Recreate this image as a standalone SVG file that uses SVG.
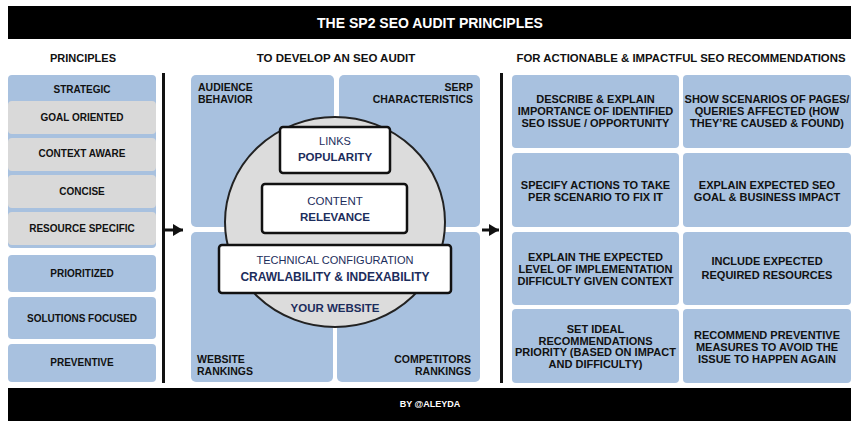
<svg xmlns="http://www.w3.org/2000/svg" width="859" height="428" viewBox="0 0 859 428">
<defs>
<style>
text{font-family:"Liberation Sans",Arial,sans-serif;font-weight:bold;fill:#111}
.c{text-anchor:middle}
.r{text-anchor:end}
.w{fill:#fff}
.blue{fill:#a8c1df}
.gray{fill:#d9d9d9}
.p{font-size:10px}
.g{font-size:11px}
.q{font-size:10.5px}
.n{fill:#1c2d5c}
.reg{font-weight:normal}
.box{fill:#fff;stroke:#111;stroke-width:2.5}
.div{stroke:#111;stroke-width:3;fill:none}
</style>
<marker id="ah" markerWidth="10" markerHeight="12" refX="10" refY="6" orient="auto" markerUnits="userSpaceOnUse">
<path d="M0,0 L10,6 L0,12 Z" fill="#111"/>
</marker>
</defs>
<rect width="859" height="428" fill="#fff"/>
<g id="title">
<rect x="8" y="6" width="843" height="33" fill="#000"/>
<text class="c w" x="430" y="28" font-size="14">THE SP2 SEO AUDIT PRINCIPLES</text>
</g>
<g id="headers">
<text class="c" x="83" y="62" font-size="11">PRINCIPLES</text>
<text class="c" x="336" y="62" font-size="11.5">TO DEVELOP AN SEO AUDIT</text>
<text class="c" x="681" y="62" font-size="11.5" textLength="329" lengthAdjust="spacingAndGlyphs">FOR ACTIONABLE &amp; IMPACTFUL SEO RECOMMENDATIONS</text>
</g>
<g id="strategic">
<rect class="blue" x="8" y="75" width="148" height="173" rx="4"/>
<text class="c p" x="82" y="93">STRATEGIC</text>
</g>
<g id="goal-oriented"><rect class="gray" x="8" y="101" width="148" height="33" rx="4"/><text class="c p" x="82" y="121">GOAL ORIENTED</text></g>
<g id="context-aware"><rect class="gray" x="8" y="138" width="148" height="33" rx="4"/><text class="c p" x="82" y="157">CONTEXT AWARE</text></g>
<g id="concise"><rect class="gray" x="8" y="175" width="148" height="33" rx="4"/><text class="c p" x="82" y="195">CONCISE</text></g>
<g id="resource-specific"><rect class="gray" x="8" y="212" width="148" height="33" rx="4"/><text class="c p" x="82" y="232">RESOURCE SPECIFIC</text></g>
<g id="prioritized"><rect class="blue" x="8" y="255" width="148" height="37" rx="4"/><text class="c p" x="82" y="277">PRIORITIZED</text></g>
<g id="solutions-focused"><rect class="blue" x="8" y="297" width="148" height="42" rx="4"/><text class="c p" x="82" y="322">SOLUTIONS FOCUSED</text></g>
<g id="preventive"><rect class="blue" x="8" y="344" width="148" height="38" rx="4"/><text class="c p" x="82" y="366">PREVENTIVE</text></g>

<g id="audience-behavior"><rect class="blue" x="191" y="75" width="143" height="152" rx="5"/><text class="q" x="198" y="91">AUDIENCE</text><text class="q" x="198" y="102.5">BEHAVIOR</text></g>
<g id="serp-characteristics"><rect class="blue" x="339" y="75" width="141" height="152" rx="5"/><text class="q r" x="473" y="91">SERP</text><text class="q r" x="473" y="102.5">CHARACTERISTICS</text></g>
<g id="website-rankings"><rect class="blue" x="191" y="232" width="142" height="150" rx="5"/><text class="q" x="197" y="363">WEBSITE</text><text class="q" x="197" y="375">RANKINGS</text></g>
<g id="competitors-rankings"><rect class="blue" x="337" y="232" width="143" height="150" rx="5"/><text class="q r" x="471" y="363">COMPETITORS</text><text class="q r" x="471" y="375">RANKINGS</text></g>

<g id="your-website">
<ellipse cx="335" cy="222" rx="110" ry="105" fill="#dcdcdc" stroke="#222" stroke-width="2"/>
<text class="c n" x="335" y="311.5" font-size="11.5">YOUR WEBSITE</text>
</g>
<g id="links"><rect class="box" x="280" y="127" width="110" height="46" rx="3"/><text class="c n reg" x="335" y="145" font-size="11">LINKS</text><text class="c n" x="335" y="161" font-size="11.5">POPULARITY</text></g>
<g id="content"><rect class="box" x="262" y="184" width="145" height="49" rx="3"/><text class="c n reg" x="335" y="205" font-size="11.5">CONTENT</text><text class="c n" x="335" y="220.5" font-size="11.5">RELEVANCE</text></g>
<g id="technical"><rect class="box" x="219" y="245" width="232" height="48" rx="3"/><text class="c n reg" x="335" y="264" font-size="11" textLength="157" lengthAdjust="spacingAndGlyphs">TECHNICAL CONFIGURATION</text><text class="c n" x="335" y="280.5" font-size="12">CRAWLABILITY &amp; INDEXABILITY</text></g>

<g id="r1c1"><rect class="blue" x="512" y="75" width="167" height="73" rx="4"/><text class="c g" x="595.5" y="103">DESCRIBE &amp; EXPLAIN</text><text class="c g" x="595.5" y="115">IMPORTANCE OF IDENTIFIED</text><text class="c g" x="595.5" y="127">SEO ISSUE / OPPORTUNITY</text></g>
<g id="r1c2"><rect class="blue" x="683" y="75" width="168" height="73" rx="4"/><text class="c g" x="767" y="103">SHOW SCENARIOS OF PAGES/</text><text class="c g" x="767" y="115">QUERIES AFFECTED (HOW</text><text class="c g" x="767" y="127">THEY’RE CAUSED &amp; FOUND)</text></g>
<g id="r2c1"><rect class="blue" x="512" y="153" width="167" height="74" rx="4"/><text class="c g" x="595.5" y="189">SPECIFY ACTIONS TO TAKE</text><text class="c g" x="595.5" y="201">PER SCENARIO TO FIX IT</text></g>
<g id="r2c2"><rect class="blue" x="683" y="153" width="168" height="74" rx="4"/><text class="c g" x="767" y="189">EXPLAIN EXPECTED SEO</text><text class="c g" x="767" y="201">GOAL &amp; BUSINESS IMPACT</text></g>
<g id="r3c1"><rect class="blue" x="512" y="232" width="167" height="73" rx="4"/><text class="c g" x="595.5" y="260.5">EXPLAIN THE EXPECTED</text><text class="c g" x="595.5" y="272.5">LEVEL OF IMPLEMENTATION</text><text class="c g" x="595.5" y="284.5">DIFFICULTY GIVEN CONTEXT</text></g>
<g id="r3c2"><rect class="blue" x="683" y="232" width="168" height="73" rx="4"/><text class="c g" x="767" y="265">INCLUDE EXPECTED</text><text class="c g" x="767" y="279">REQUIRED RESOURCES</text></g>
<g id="r4c1"><rect class="blue" x="512" y="309" width="167" height="74" rx="4"/><text class="c g" x="595.5" y="333">SET IDEAL</text><text class="c g" x="595.5" y="344.7">RECOMMENDATIONS</text><text class="c g" x="595.5" y="356.4">PRIORITY (BASED ON IMPACT</text><text class="c g" x="595.5" y="368">AND DIFFICULTY)</text></g>
<g id="r4c2"><rect class="blue" x="683" y="309" width="168" height="74" rx="4"/><text class="c g" x="767" y="339">RECOMMEND PREVENTIVE</text><text class="c g" x="767" y="351">MEASURES TO AVOID THE</text><text class="c g" x="767" y="363">ISSUE TO HAPPEN AGAIN</text></g>

<g id="connectors">
<line class="div" x1="163.5" y1="73" x2="163.5" y2="383"/>
<line class="div" x1="501.5" y1="73" x2="501.5" y2="383"/>
<line class="div" x1="165" y1="230" x2="183" y2="230" marker-end="url(#ah)"/>
<line class="div" x1="482" y1="230" x2="499" y2="230" marker-end="url(#ah)"/>
</g>
<g id="footer">
<rect x="8" y="388" width="843" height="33" fill="#000"/>
<text class="c w" x="430" y="407" font-size="9">BY @ALEYDA</text>
</g>
</svg>
